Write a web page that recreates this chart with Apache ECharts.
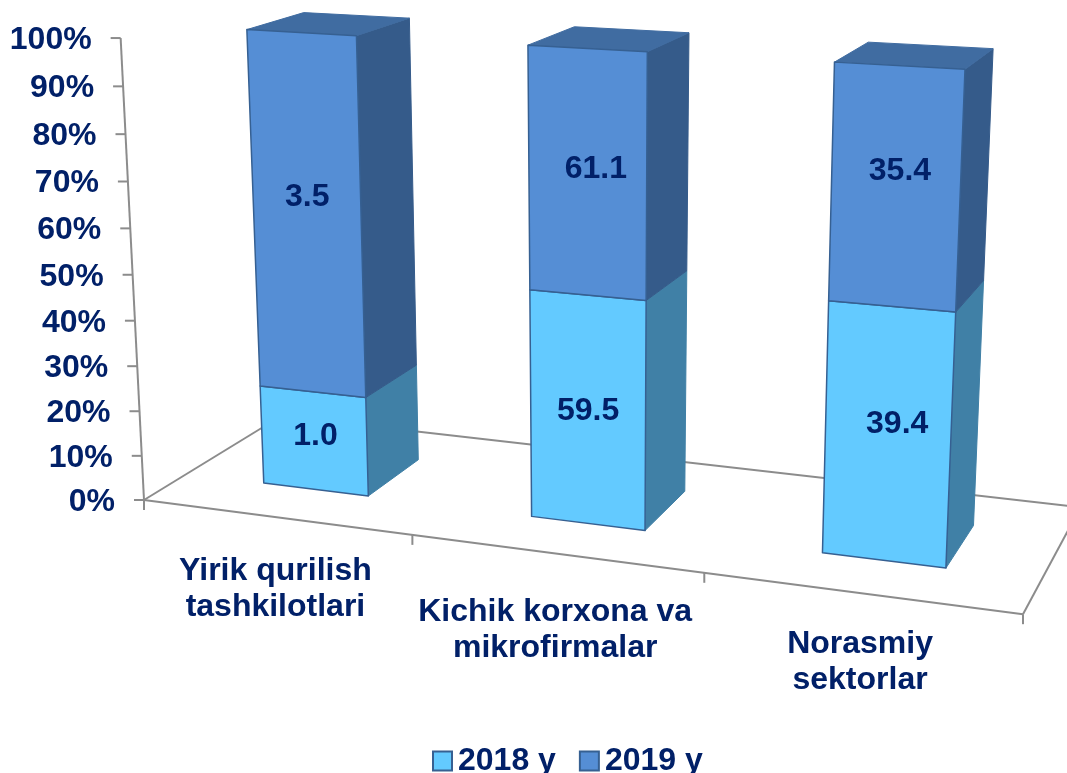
<!DOCTYPE html>
<html>
<head>
<meta charset="utf-8">
<style>
  html, body { margin: 0; padding: 0; background: #fff; }
  #chart { width: 1067px; height: 773px; }
</style>
<script src="https://cdn.jsdelivr.net/npm/echarts@6/dist/echarts.min.js"></script>
</head>
<body>
<div id="chart"></div>
<script>
// 图表数据
const categories = ['Yirik qurilish\ntashkilotlari', 'Kichik korxona va\nmikrofirmalar', 'Norasmiy\nsektorlar']
const legendNames = ['2018 y', '2019 y']
const values2018 = [1.0, 59.5, 39.4]
const values2019 = [3.5, 61.1, 35.4]
const yTicks = [0, 10, 20, 30, 40, 50, 60, 70, 80, 90, 100]

// 标签微调 (px)
const labelNudge2018 = [[1, -4], [0, 2], [9, -9]]
const labelNudge2019 = [[0, -15], [8, -3], [4, -15]]
const categoryLabelDrop = [72, 77, 69]

const FONT = 'bold 32px "Liberation Sans", Arial, sans-serif'
const TEXT_COLOR = '#012068'
const AXIS_COLOR = '#8c8c8c'
const EDGE_COLOR = '#366092'

// 透视相机: 地面左前角 + 三个灭点
const ORIGIN = [144, 500]
const VP_X = [-6245, -330, -0.12094]
const VP_Y = [602, 9557, -0.04853]
const VP_Z = [1546, -358, 0.1085]

// u: 沿类目轴 0-1, h: 百分比 0-1, d: 进深 0-1
function project(u, h, d) {
  const w = 1 + VP_X[2] * u + VP_Y[2] * h + VP_Z[2] * d
  const x = ORIGIN[0] + VP_X[2] * VP_X[0] * u + VP_Y[2] * VP_Y[0] * h + VP_Z[2] * VP_Z[0] * d
  const y = ORIGIN[1] + VP_X[2] * VP_X[1] * u + VP_Y[2] * VP_Y[1] * h + VP_Z[2] * VP_Z[1] * d
  return [x / w, y / w]
}

const BAR_WIDTH = 0.4   // 占类目带宽
const BAR_DEPTH = [0.295, 0.705]

// 绘图网格铺满画布, 轴比例换算成 u / h
function toUnit(api, cat, pct) {
  const p = api.coord([cat, pct])
  return [p[0] / api.getWidth(), 1 - p[1] / api.getHeight()]
}

function lineEl(a, b, width) {
  return {
    type: 'line',
    shape: { x1: a[0], y1: a[1], x2: b[0], y2: b[1] },
    style: { stroke: AXIS_COLOR, lineWidth: width || 2 }
  }
}

function textEl(str, pos, align, extra) {
  return {
    type: 'text',
    z2: 50,
    style: Object.assign({
      text: str, x: pos[0], y: pos[1], fill: TEXT_COLOR, font: FONT,
      align: align, verticalAlign: 'middle'
    }, extra || {})
  }
}

function polygonEl(points, fill, stroke, width) {
  return {
    type: 'polygon',
    shape: { points: points },
    style: { fill: fill, stroke: stroke, lineWidth: width, lineJoin: 'round' }
  }
}

function renderFloor(params, api) {
  const a = project(0, 0, 0)
  const b = project(1, 0, 0)
  const c = project(0, 0, 1)
  const d = project(1, 0, 1)
  return {
    type: 'group',
    children: [lineEl(a, project(0, 1, 0)), lineEl(a, b), lineEl(a, c), lineEl(c, d), lineEl(b, d)]
  }
}

function renderYTick(params, api) {
  const v = api.value(1)
  const h = toUnit(api, 0, v)[1]
  const p = project(0, h, 0)
  return {
    type: 'group',
    children: [
      lineEl(p, [p[0] - 10, p[1]]),
      textEl(v + '%', [p[0] - 29, p[1] + 2], 'right')
    ]
  }
}

function renderXTick(params, api) {
  const i = api.value(0)
  const band = api.size([1, 0])[0] / api.getWidth()
  const center = toUnit(api, i, 0)[0]
  const left = project(center - band / 2, 0, 0)
  const right = project(center + band / 2, 0, 0)
  const mid = project(center, 0, 0)
  const children = [
    lineEl(left, [left[0], left[1] + 10]),
    textEl(categories[i], [mid[0], mid[1] + categoryLabelDrop[i]], 'center', { lineHeight: 36 })
  ]
  if (i === categories.length - 1) {
    children.push(lineEl(right, [right[0], right[1] + 10]))
  }
  return { type: 'group', children: children }
}

function makeStackRender(colors, nudges) {
  return function (params, api) {
    const i = api.value(0)
    const band = api.size([1, 0])[0] / api.getWidth()
    const low = toUnit(api, i, api.value(1))
    const high = toUnit(api, i, api.value(2))
    const u0 = low[0] - band * BAR_WIDTH / 2
    const u1 = low[0] + band * BAR_WIDTH / 2
    const d0 = BAR_DEPTH[0]
    const d1 = BAR_DEPTH[1]
    const h0 = low[1]
    const h1 = high[1]
    const front = [project(u0, h0, d0), project(u1, h0, d0), project(u1, h1, d0), project(u0, h1, d0)]
    const side = [project(u1, h0, d0), project(u1, h0, d1), project(u1, h1, d1), project(u1, h1, d0)]
    const children = [polygonEl(side, colors.side, colors.side, 1)]
    if (h1 > 0.999) {
      const top = [project(u0, h1, d0), project(u1, h1, d0), project(u1, h1, d1), project(u0, h1, d1)]
      children.push(polygonEl(top, colors.top, colors.top, 1))
    }
    children.push(polygonEl(front, colors.front, EDGE_COLOR, 1.5))
    const cx = (front[0][0] + front[1][0] + front[2][0] + front[3][0]) / 4 + nudges[i][0]
    const cy = (front[0][1] + front[1][1] + front[2][1] + front[3][1]) / 4 + nudges[i][1]
    children.push(textEl(api.value(3).toFixed(1), [cx, cy], 'center'))
    return { type: 'group', children: children }
  }
}

// 百分比堆叠: [类目, 起点, 终点, 原值]
const rows2018 = categories.map((c, i) => [i, 0, values2018[i] / (values2018[i] + values2019[i]) * 100, values2018[i]])
const rows2019 = categories.map((c, i) => [i, rows2018[i][2], 100, values2019[i]])

const chart = echarts.init(document.getElementById('chart'), null, { renderer: 'canvas' })
chart.setOption({
  animation: false,
  backgroundColor: '#fff',
  textStyle: { fontFamily: '"Liberation Sans", Arial, sans-serif' },
  grid: { left: 0, right: 0, top: 0, bottom: 0 },
  xAxis: { type: 'category', data: categories, show: false },
  yAxis: { type: 'value', min: 0, max: 100, interval: 10, show: false },
  legend: {
    data: legendNames,
    left: 432,
    top: 745,
    padding: 0,
    itemWidth: 19,
    itemHeight: 19,
    itemGap: 23,
    icon: 'rect',
    selectedMode: false,
    textStyle: {
      color: TEXT_COLOR,
      fontSize: 32,
      fontWeight: 'bold',
      fontFamily: '"Liberation Sans", Arial, sans-serif',
      padding: [0, 0, 0, 1]
    }
  },
  series: [
    {
      type: 'custom', name: 'floor', silent: true, z: 1,
      renderItem: renderFloor, data: [[0, 0]]
    },
    {
      type: 'custom', name: 'yTicks', silent: true, z: 2,
      renderItem: renderYTick, data: yTicks.map(v => [0, v])
    },
    {
      type: 'custom', name: 'xTicks', silent: true, z: 2,
      renderItem: renderXTick, data: categories.map((c, i) => [i, 0])
    },
    {
      type: 'custom', name: legendNames[0], silent: true, z: 3,
      itemStyle: { color: '#63caff', borderColor: EDGE_COLOR, borderWidth: 2 },
      renderItem: makeStackRender({ front: '#63caff', side: '#4080a6', top: '#4080a6' }, labelNudge2018),
      data: rows2018
    },
    {
      type: 'custom', name: legendNames[1], silent: true, z: 3,
      itemStyle: { color: '#558ed5', borderColor: EDGE_COLOR, borderWidth: 3 },
      renderItem: makeStackRender({ front: '#558ed5', side: '#355b8a', top: '#406ca1' }, labelNudge2019),
      data: rows2019
    }
  ]
})
</script>
</body>
</html>
